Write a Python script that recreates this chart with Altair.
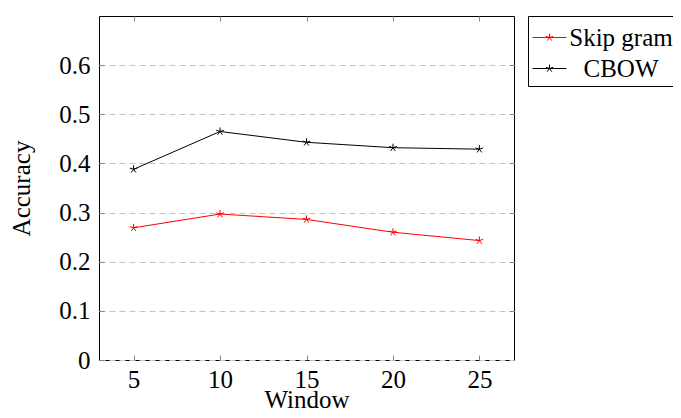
import altair as alt
import pandas as pd

windows = [5, 10, 15, 20, 25]
skip_gram = [0.269, 0.297, 0.286, 0.260, 0.243]
cbow = [0.388, 0.465, 0.443, 0.432, 0.429]
series_names = ["Skip gram", "CBOW"]
series_colors = ["#ff0000", "#000000"]
x_ticks = [5, 10, 15, 20, 25]
y_ticks = [0, 0.1, 0.2, 0.3, 0.4, 0.5, 0.6]

df = pd.DataFrame({
    "Window": windows * 2,
    "Accuracy": skip_gram + cbow,
    "Series": ["Skip gram"] * len(windows) + ["CBOW"] * len(windows),
})

# 5-spoke star marker (TikZ "star")
spokes = [(0, -1), (-0.951, -0.309), (-0.588, 0.809), (0.588, 0.809), (0.951, -0.309)]
star = "".join(f"M0,0L{x},{y}" for x, y in spokes)
r = 0.23
legend_sym = "M-1,0L1,0" + "".join(f"M0,0L{x*r:.3f},{y*r:.3f}" for x, y in spokes)

font = "Liberation Serif"
fs = 25
xscale = alt.Scale(domain=[3, 27], nice=False, zero=False)
yscale = alt.Scale(domain=[0, 0.7], nice=False)

main = alt.Chart(df).mark_line(
    strokeWidth=1,
    point=alt.OverlayMarkDef(shape=star, filled=False, size=64, strokeWidth=1),
).encode(
    x=alt.X("Window:Q", scale=xscale,
            axis=alt.Axis(values=x_ticks, orient="bottom", offset=-5, tickSize=5, domain=False,
                          tickColor="#888888", labelPadding=7, title="Window",
                          titleBaseline="alphabetic", titleY=52,
                          grid=False, labelFlush=False)),
    y=alt.Y("Accuracy:Q", scale=yscale,
            axis=alt.Axis(values=y_ticks, orient="left", offset=-5, tickSize=5, domain=False,
                          tickColor="#888888", labelPadding=9, title="Accuracy", titlePadding=24,
                          grid=True, gridColor="#c4c4c4", gridDash=[6, 4], gridWidth=1,
                          labelFlush=False, format="~g")),
    color=alt.Color("Series:N", scale=alt.Scale(domain=series_names, range=series_colors),
                    legend=alt.Legend(title=None, symbolType=legend_sym, symbolSize=1156,
                                      symbolStrokeWidth=1, labelOffset=54, labelAlign="center",
                                      offset=13, strokeColor="#000000", padding=4, rowPadding=-2)),
)

mirror = alt.Chart(df).mark_point(opacity=0).encode(
    x=alt.X("Window:Q", scale=xscale,
            axis=alt.Axis(values=x_ticks, orient="top", offset=-5, tickSize=5, domain=False,
                          tickColor="#888888", labels=False, title=None, grid=False)),
    y=alt.Y("Accuracy:Q", scale=yscale,
            axis=alt.Axis(values=y_ticks[1:], orient="right", offset=-5, tickSize=5, domain=False,
                          tickColor="#888888", labels=False, title=None, grid=False)),
)

chart = alt.layer(main, mirror).properties(
    width=415, height=344,
    autosize=alt.AutoSizeParams(type="none"),
    padding={"left": 91, "top": 8, "right": 159, "bottom": 50},
).configure_view(
    stroke="#000000", strokeWidth=1,
).configure_axis(
    labelFont=font, titleFont=font, labelFontSize=fs, titleFontSize=fs,
    labelColor="#000000", titleColor="#000000", titleFontWeight="normal",
).configure_legend(
    labelFont=font, labelFontSize=fs, labelColor="#000000",
)

chart.save("out.html", embed_options={"renderer": "svg", "actions": False})
